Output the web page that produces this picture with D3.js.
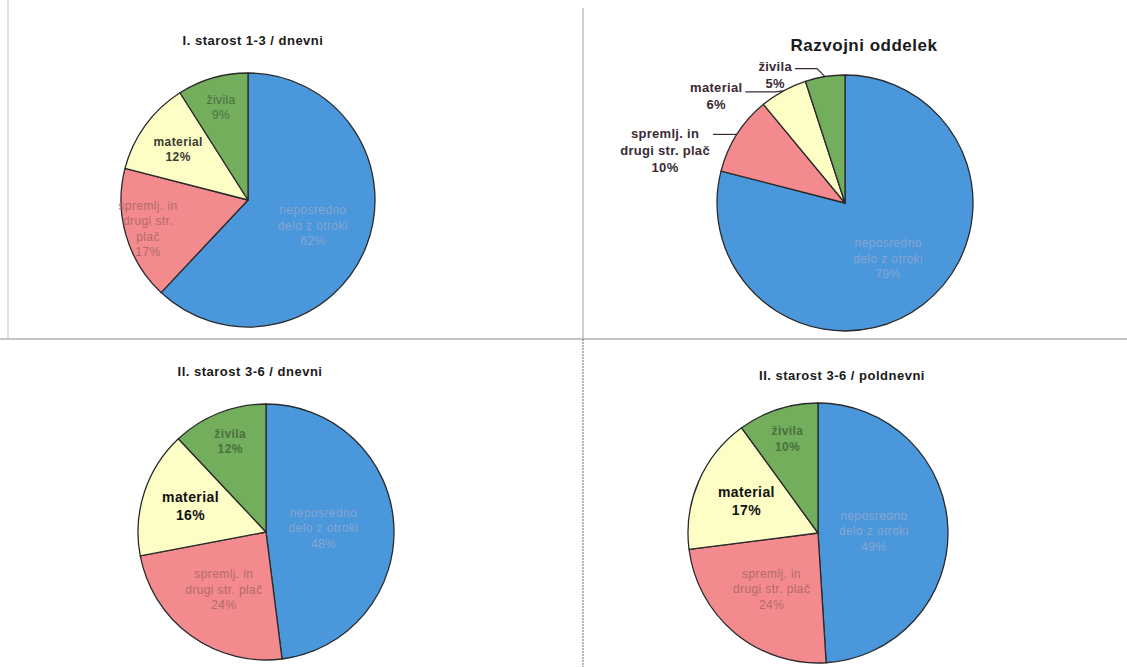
<!DOCTYPE html>
<html>
<head>
<meta charset="utf-8">
<script src="https://cdn.jsdelivr.net/npm/d3@7/dist/d3.min.js"></script>
<style>
  body { margin: 0; background: #fff; }
  svg { display: block; font-family: "Liberation Sans", Arial, sans-serif; }
</style>
</head>
<body>
<svg width="1127" height="667"></svg>
<script>
// chart data
var titles = ['I. starost 1-3 / dnevni', 'Razvojni  oddelek', 'II. starost 3-6 / dnevni', 'II. starost 3-6 / poldnevni'];
var categories = ['neposredno delo z otroki', 'spremlj. in drugi str. plač', 'material', 'živila'];
var valuesI = [62, 17, 12, 9];
var valuesRazvojni = [79, 10, 6, 5];
var valuesIIdnevni = [48, 24, 16, 12];
var valuesIIpoldnevni = [49, 24, 17, 10];

var svg = d3.select('svg');
var colors = d3.scaleOrdinal().domain(categories)
    .range(['#4b97dc', '#f28a8e', '#fdfdc6', '#73ae5d']);
var textColors = d3.scaleOrdinal().domain(categories)
    .range(['#86a6cf', '#b26a6c', '#3a3a30', '#4a7040']);

// label line breaks per chart
var lines = [
  [['neposredno', 'delo z otroki'], ['spremlj.  in', 'drugi str.', 'plač'], ['material'], ['živila']],
  [['neposredno', 'delo z otroki'], ['spremlj.  in', 'drugi str. plač'], ['material'], ['živila']],
  [['neposredno', 'delo z otroki'], ['spremlj.  in', 'drugi str. plač'], ['material'], ['živila']],
  [['neposredno', 'delo z otroki'], ['spremlj.  in', 'drugi str. plač'], ['material'], ['živila']]
];

// page frame lines
svg.append('line').attr('x1', 8).attr('x2', 8).attr('y1', 0).attr('y2', 339)
    .attr('stroke', '#d8d8d8').attr('stroke-width', 1.5);
svg.append('line').attr('x1', 0).attr('x2', 1127).attr('y1', 339).attr('y2', 339)
    .attr('stroke', '#c4c4c4').attr('stroke-width', 2);
svg.append('line').attr('x1', 583).attr('x2', 583).attr('y1', 8).attr('y2', 339)
    .attr('stroke', '#b0b0b0').attr('stroke-width', 1.2);
svg.append('line').attr('x1', 583).attr('x2', 583).attr('y1', 339).attr('y2', 667)
    .attr('stroke', '#6a6a6a').attr('stroke-width', 1).attr('stroke-dasharray', '2,1');

var panels = [
  {values: valuesI, cx: 248, cy: 200, r: 127, tx: 253, ty: 45, tsize: 13, rf: [0.55, 0.82, 0.68, 0.76]},
  {values: valuesRazvojni, cx: 845, cy: 203, r: 128, tx: 864, ty: 51, tsize: 17, rf: [0.55, 0, 0, 0], outside: true},
  {values: valuesIIdnevni, cx: 266, cy: 532, r: 128, tx: 250, ty: 376, tsize: 13, rf: [0.45, 0.56, 0.62, 0.76], bold: true},
  {values: valuesIIpoldnevni, cx: 818, cy: 533, r: 130, tx: 842, ty: 380, tsize: 13, rf: [0.43, 0.56, 0.6, 0.76], bold: true}
];

// leader line shape for the outside labels: [length, line offset up, text offset up]
var leader = {1: [24, 0, 0], 2: [38, -1, 4], 3: [30, 8, 2]};

var pie = d3.pie().sort(null).value(function(d) { return d.value; });

panels.forEach(function(p, i) {
  var g = svg.append('g').attr('transform', 'translate(' + [p.cx, p.cy] + ')');
  var data = categories.map(function(c, k) { return {cat: c, value: p.values[k], k: k}; });
  var arcs = pie(data);
  var arc = d3.arc().innerRadius(0).outerRadius(p.r);

  svg.append('text')
    .attr('x', p.tx).attr('y', p.ty)
    .attr('text-anchor', 'middle')
    .attr('font-size', p.tsize)
    .attr('font-weight', 'bold')
    .attr('letter-spacing', 0.5)
    .attr('fill', '#1a1a1a')
    .text(titles[i]);

  g.selectAll('path.slice')
    .data(arcs)
    .enter().append('path')
    .attr('class', 'slice')
    .attr('d', arc)
    .attr('fill', function(d) { return colors(d.data.cat); })
    .attr('stroke', '#2a2a2a')
    .attr('stroke-width', 1.3)
    .attr('stroke-linejoin', 'round');

  arcs.forEach(function(a) {
    var k = a.data.k;
    var txt = lines[i][k].concat([a.data.value + '%']);
    var mid = (a.startAngle + a.endAngle) / 2;
    if (p.outside && k > 0) {
      // outside labels with leader lines
      var ex = Math.sin(mid) * p.r, ey = -Math.cos(mid) * p.r;
      var L = leader[k];
      var endX = ex - L[0];
      var lineY = ey - L[1];
      var textY = lineY - L[2];
      g.append('polyline')
        .attr('points', [[ex, ey], [ex - 8, lineY], [endX, lineY]].join(' '))
        .attr('fill', 'none').attr('stroke', '#3a2a36').attr('stroke-width', 1.2);
      var lab = g.append('text')
        .attr('font-size', 13).attr('font-weight', 'bold').attr('fill', '#3a2a36')
        .attr('letter-spacing', 0.3);
      var spans = txt.map(function(t, j) {
        return lab.append('tspan').attr('text-anchor', 'middle').attr('y', textY + 4 + j * 17).text(t);
      });
      var w = d3.max(spans, function(s) { return s.node().getComputedTextLength(); });
      spans.forEach(function(s) { s.attr('x', endX - 3 - w / 2); });
      return;
    }
    var rr = p.r * p.rf[k];
    var lx = Math.sin(mid) * rr, ly = -Math.cos(mid) * rr;
    var isMat = p.bold && k == 2;
    var fs = isMat ? 14 : 12;
    var lh = isMat ? 18 : 15.5;
    g.append('text')
      .attr('text-anchor', 'middle')
      .attr('font-size', fs)
      .attr('letter-spacing', 0.4)
      .attr('font-weight', isMat || k == 2 || (p.bold && k == 3) ? 'bold' : 'normal')
      .attr('fill', isMat ? '#111' : textColors(a.data.cat))
      .selectAll('tspan')
      .data(txt)
      .enter().append('tspan')
      .attr('x', lx)
      .attr('y', function(t, j) { return ly + 4 + (j - (txt.length - 1) / 2) * lh; })
      .text(function(t) { return t; });
  });
});
</script>
</body>
</html>
